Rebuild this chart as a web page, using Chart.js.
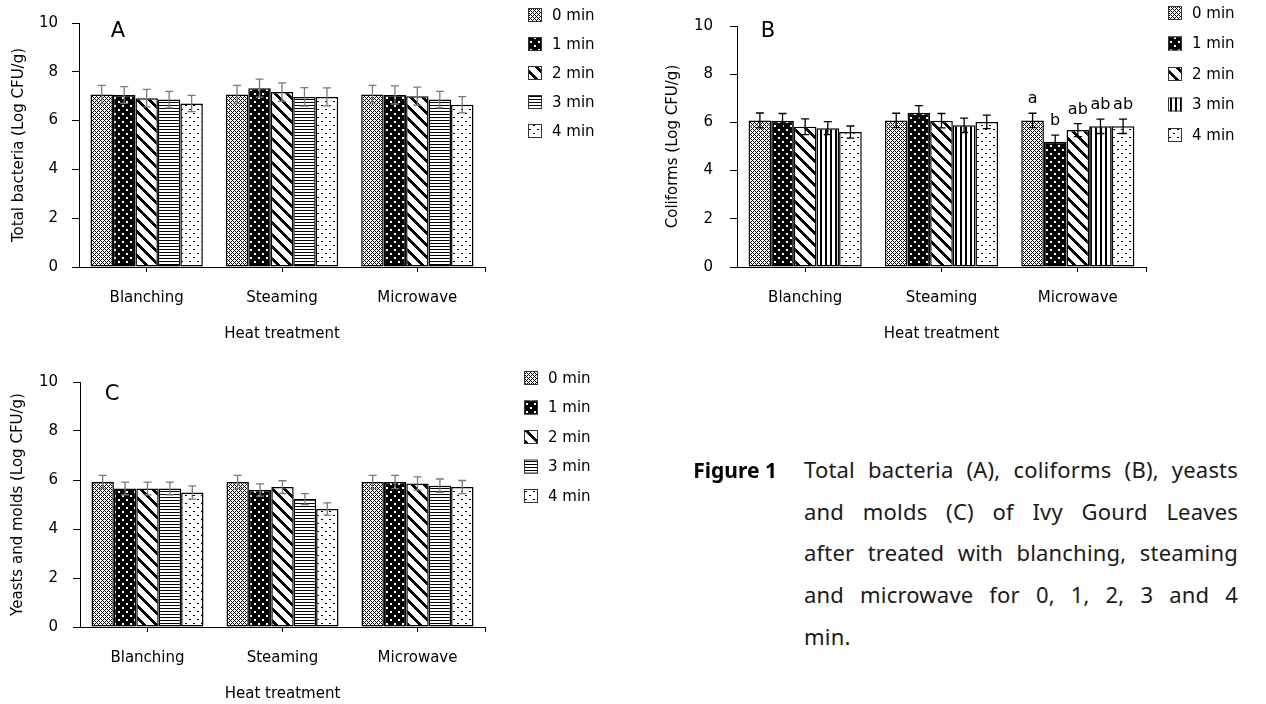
<!DOCTYPE html>
<html>
<head>
<meta charset="utf-8">
<script src="https://cdn.jsdelivr.net/npm/chart.js@4.4.1/dist/chart.umd.min.js"></script>
<style>
  body { margin: 0; background: #fff; width: 1266px; height: 704px; overflow: hidden; position: relative; }
  canvas { position: absolute; }
  #capFig { position: absolute; left: 0; width: 777px; top: 449px; text-align: right;
            font: bold 21px "Noto Sans"; line-height: 42px; color: #000; }
  #capText { position: absolute; left: 804px; width: 434px; top: 449px;
             font: 22px "Noto Sans"; line-height: 41.7px; color: #1a1a1a; letter-spacing: 0.2px; }
  #capText div { text-align: justify; text-align-last: justify; }
  #capText div.last { text-align-last: left; }
</style>
</head>
<body>
<canvas id="chartA" width="630" height="345" style="left:0;top:0"></canvas>
<canvas id="chartB" width="626" height="345" style="left:640px;top:0"></canvas>
<canvas id="chartC" width="630" height="354" style="left:0;top:350px"></canvas>

<div id="capFig">Figure 1</div>
<div id="capText">
  <div>Total bacteria (A), coliforms (B), yeasts</div>
  <div>and molds (C) of Ivy Gourd Leaves</div>
  <div>after treated with blanching, steaming</div>
  <div>and microwave for 0, 1, 2, 3 and 4</div>
  <div class="last">min.</div>
</div>

<script>
// Data
const categories = ['Blanching', 'Steaming', 'Microwave'];
const seriesLabels = ['0 min', '1 min', '2 min', '3 min', '4 min'];
const yTicks = [0, 2, 4, 6, 8, 10];

// one row per heating time, one value per treatment (Log CFU/g)
const bacteriaMean = [
    [7.07, 7.07, 7.07],
    [7.05, 7.33, 7.05],
    [6.92, 7.17, 7.00],
    [6.86, 6.97, 6.86],
    [6.70, 6.97, 6.65]
];
const bacteriaErr = [
    [0.37, 0.37, 0.37],
    [0.34, 0.37, 0.37],
    [0.36, 0.38, 0.37],
    [0.34, 0.38, 0.34],
    [0.33, 0.37, 0.33]
];

const coliformMean = [
    [6.08, 6.08, 6.08],
    [6.07, 6.40, 5.20],
    [5.82, 6.07, 5.68],
    [5.76, 5.88, 5.84],
    [5.60, 6.02, 5.84]
];
const coliformErr = [
    [0.31, 0.30, 0.30],
    [0.30, 0.30, 0.27],
    [0.33, 0.30, 0.27],
    [0.27, 0.30, 0.30],
    [0.25, 0.28, 0.30]
];
const coliformLetters = [
    ['', '', 'a'],
    ['', '', 'b'],
    ['', '', 'ab'],
    ['', '', 'ab'],
    ['', '', 'ab']
];

const yeastMean = [
    [5.92, 5.92, 5.92],
    [5.65, 5.59, 5.92],
    [5.65, 5.71, 5.86],
    [5.65, 5.22, 5.77],
    [5.49, 4.82, 5.71]
];
const yeastErr = [
    [0.27, 0.27, 0.27],
    [0.26, 0.25, 0.27],
    [0.26, 0.26, 0.27],
    [0.26, 0.22, 0.27],
    [0.27, 0.25, 0.27]
];

const FONT = 'DejaVu Sans';

// pixel tiles for the hatch fills
function makePattern(w, h, isBlack) {
    const c = document.createElement('canvas');
    c.width = w; c.height = h;
    const g = c.getContext('2d');
    const img = g.createImageData(w, h);
    for (let y = 0; y < h; y++) {
        for (let x = 0; x < w; x++) {
            const i = (y * w + x) * 4;
            const v = isBlack(x, y) ? 0 : 255;
            img.data[i] = img.data[i + 1] = img.data[i + 2] = v;
            img.data[i + 3] = 255;
        }
    }
    g.putImageData(img, 0, 0);
    return g.createPattern(c, 'repeat');
}

const patCross = makePattern(4, 4, (x, y) => (x + y) % 4 === 0 || (x - y + 4) % 4 === 0);
const patBlackDots = makePattern(8, 8, (x, y) => !(
    (x >= 2 && x <= 3 && y >= 1 && y <= 2) || (x >= 6 && x <= 7 && y >= 5 && y <= 6)));
const patDiag = makePattern(12, 12, (x, y) => ((x - y) % 12 + 12) % 12 < 4);
const patHLines = makePattern(4, 3, (x, y) => y === 0);
const patVLines = makePattern(5, 4, (x, y) => x < 2);
const patSparseDots = makePattern(8, 8, (x, y) =>
    (x >= 1 && x <= 2 && y === 1) || (x >= 5 && x <= 6 && y === 5));

const fillsAC = [patCross, patBlackDots, patDiag, patHLines, patSparseDots];
const fillsB = [patCross, patBlackDots, patDiag, patVLines, patSparseDots];

// error bars, significance letters, panel letter and legend
const panelPlugin = {
    id: 'panel',
    afterDatasetsDraw(chart, args, opts) {
        const ctx = chart.ctx;
        const ys = chart.scales.y;
        ctx.save();
        chart.data.datasets.forEach((ds, i) => {
            chart.getDatasetMeta(i).data.forEach((bar, j) => {
                const v = ds.data[j], e = opts.errors[i][j];
                const top = ys.getPixelForValue(v + e);
                const bot = ys.getPixelForValue(v - e);
                ctx.strokeStyle = opts.errColor;
                ctx.lineWidth = 1.3;
                ctx.beginPath();
                ctx.moveTo(bar.x, top); ctx.lineTo(bar.x, bot);
                ctx.moveTo(bar.x - 4, top); ctx.lineTo(bar.x + 4, top);
                ctx.moveTo(bar.x - 4, bot); ctx.lineTo(bar.x + 4, bot);
                ctx.stroke();
                if (opts.letters && opts.letters[i][j]) {
                    ctx.fillStyle = '#000';
                    ctx.font = '16px ' + FONT;
                    ctx.textAlign = 'center';
                    ctx.textBaseline = 'alphabetic';
                    ctx.fillText(opts.letters[i][j], bar.x, top - 10);
                }
            });
        });
        ctx.restore();
    },
    afterDraw(chart, args, opts) {
        const ctx = chart.ctx;
        const area = chart.chartArea;
        ctx.save();
        // closing tick at the right end of the x axis
        ctx.strokeStyle = '#000';
        ctx.lineWidth = 1;
        ctx.beginPath();
        ctx.moveTo(Math.round(area.right) + 0.5, area.bottom);
        ctx.lineTo(Math.round(area.right) + 0.5, area.bottom + 5);
        ctx.stroke();

        ctx.fillStyle = '#000';
        ctx.font = '21px ' + FONT;
        ctx.textAlign = 'center';
        ctx.textBaseline = 'middle';
        ctx.fillText(opts.tag, opts.tagX, opts.tagY);

        ctx.font = '15px ' + FONT;
        ctx.textAlign = 'left';
        chart.data.datasets.forEach((ds, i) => {
            const cy = opts.legendTop + i * opts.legendStep;
            ctx.fillStyle = ds.backgroundColor;
            ctx.fillRect(opts.legendX, cy - 7, 14, 14);
            ctx.strokeStyle = '#333';
            ctx.strokeRect(opts.legendX + 0.5, cy - 6.5, 13, 13);
            ctx.fillStyle = '#000';
            ctx.fillText(ds.label, opts.legendX + 24, cy + 1);
        });
        ctx.restore();
    }
};

function makeChart(id, means, errs, fills, yTitle, cfg) {
    const font = { family: FONT, size: 15 };
    return new Chart(document.getElementById(id), {
        type: 'bar',
        data: {
            labels: categories,
            datasets: seriesLabels.map((label, i) => ({
                label: label,
                data: means[i],
                backgroundColor: fills[i],
                borderColor: '#000',
                borderWidth: 1.5,
                borderSkipped: false,
                categoryPercentage: 0.83,
                barPercentage: 1.0
            }))
        },
        options: {
            responsive: false,
            animation: false,
            layout: { padding: cfg.padding },
            scales: {
                x: {
                    border: { color: '#000', width: 1 },
                    grid: { offset: false, drawOnChartArea: false, tickLength: 5, color: '#000' },
                    ticks: { color: '#000', font: font, padding: 17 },
                    title: { display: true, text: 'Heat treatment', color: '#000', font: font,
                             padding: { top: 0, bottom: 0 } },
                    afterFit: s => { s.height = 76; }
                },
                y: {
                    min: 0,
                    max: 10,
                    afterBuildTicks: s => { s.ticks = yTicks.map(v => ({ value: v })); },
                    border: { color: '#000', width: 1 },
                    grid: { drawOnChartArea: false, tickLength: 7, color: '#000' },
                    ticks: { color: '#000', font: font, padding: cfg.tickPad },
                    title: { display: true, text: yTitle, color: '#000', font: font,
                             padding: { top: cfg.titlePad, bottom: 0 } },
                    afterFit: s => { s.width = cfg.yWidth; }
                }
            },
            plugins: {
                legend: { display: false },
                tooltip: { enabled: false },
                panel: cfg.panel
            }
        },
        plugins: [panelPlugin]
    });
}

makeChart('chartA', bacteriaMean, bacteriaErr, fillsAC, 'Total bacteria (Log CFU/g)', {
    padding: { left: 0, top: 22, right: 145, bottom: 2 },
    yWidth: 79, tickPad: 14, titlePad: 10,
    panel: { errors: bacteriaErr, errColor: '#7a7a7a', tag: 'A', tagX: 118, tagY: 32,
             legendX: 528, legendTop: 15, legendStep: 29 }
});

makeChart('chartB', coliformMean, coliformErr, fillsB, 'Coliforms (Log CFU/g)', {
    padding: { left: 0, top: 23, right: 120, bottom: 2 },
    yWidth: 97, tickPad: 17, titlePad: 24,
    panel: { errors: coliformErr, errColor: '#000', letters: coliformLetters, tag: 'B',
             tagX: 128, tagY: 32, legendX: 528, legendTop: 13, legendStep: 30.5 }
});

makeChart('chartC', yeastMean, yeastErr, fillsAC, 'Yeasts and molds (Log CFU/g)', {
    padding: { left: 0, top: 32, right: 145, bottom: 1 },
    yWidth: 80, tickPad: 15, titlePad: 9,
    panel: { errors: yeastErr, errColor: '#7a7a7a', tag: 'C', tagX: 112, tagY: 45,
             legendX: 524, legendTop: 28, legendStep: 29.5 }
});
</script>
</body>
</html>
